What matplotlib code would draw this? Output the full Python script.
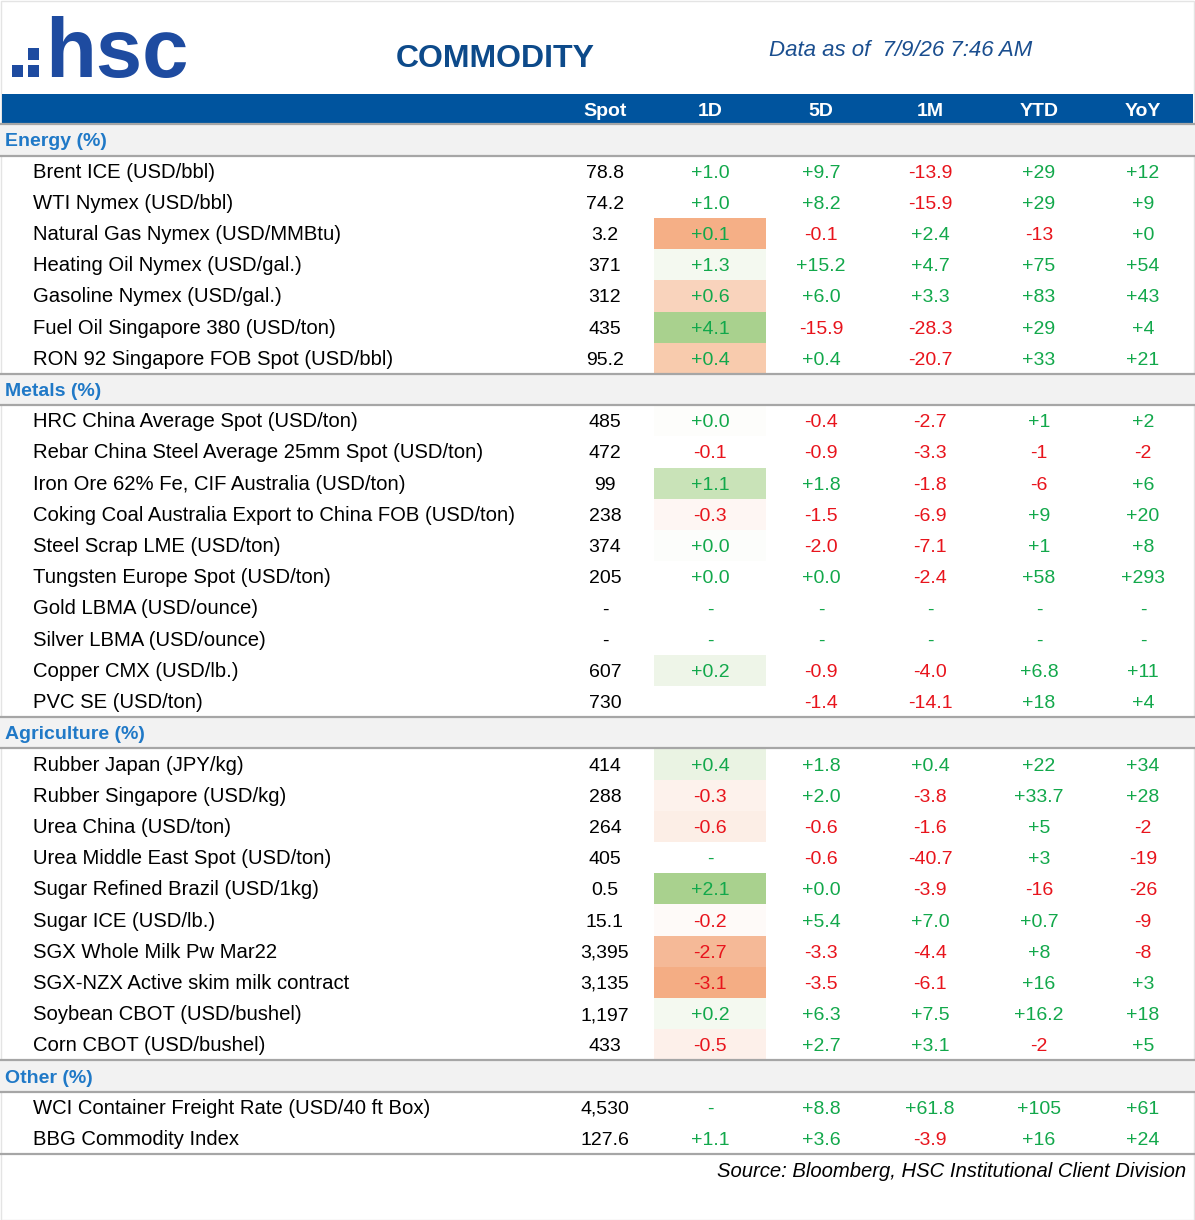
import matplotlib.pyplot as plt
from matplotlib.patches import Rectangle

plt.rcParams['font.family'] = ['Liberation Sans', 'DejaVu Sans']

# data
columns = ['Spot', '1D', '5D', '1M', 'YTD', 'YoY']
sections = ['Energy (%)', 'Metals (%)', 'Agriculture (%)', 'Other (%)']
section_sizes = [7, 10, 10, 2]

names = [
    'Brent ICE (USD/bbl)', 'WTI Nymex (USD/bbl)', 'Natural Gas Nymex (USD/MMBtu)',
    'Heating Oil Nymex (USD/gal.)', 'Gasoline Nymex (USD/gal.)',
    'Fuel Oil Singapore 380 (USD/ton)', 'RON 92 Singapore FOB Spot (USD/bbl)',
    'HRC China Average Spot (USD/ton)', 'Rebar China Steel Average 25mm Spot (USD/ton)',
    'Iron Ore 62% Fe, CIF Australia (USD/ton)',
    'Coking Coal Australia Export to China FOB (USD/ton)', 'Steel Scrap LME (USD/ton)',
    'Tungsten Europe Spot (USD/ton)', 'Gold LBMA (USD/ounce)', 'Silver LBMA (USD/ounce)',
    'Copper CMX (USD/lb.)', 'PVC SE (USD/ton)',
    'Rubber Japan (JPY/kg)', 'Rubber Singapore (USD/kg)', 'Urea China (USD/ton)',
    'Urea Middle East Spot (USD/ton)', 'Sugar Refined Brazil (USD/1kg)', 'Sugar ICE (USD/lb.)',
    'SGX Whole Milk Pw Mar22', 'SGX-NZX Active skim milk contract',
    'Soybean CBOT (USD/bushel)', 'Corn CBOT (USD/bushel)',
    'WCI Container Freight Rate (USD/40 ft Box)', 'BBG Commodity Index',
]
spot = ['78.8', '74.2', '3.2', '371', '312', '435', '95.2',
        '485', '472', '99', '238', '374', '205', '-', '-', '607', '730',
        '414', '288', '264', '405', '0.5', '15.1', '3,395', '3,135', '1,197', '433',
        '4,530', '127.6']
d1 = ['+1.0', '+1.0', '+0.1', '+1.3', '+0.6', '+4.1', '+0.4',
      '+0.0', '-0.1', '+1.1', '-0.3', '+0.0', '+0.0', '-', '-', '+0.2', '',
      '+0.4', '-0.3', '-0.6', '-', '+2.1', '-0.2', '-2.7', '-3.1', '+0.2', '-0.5',
      '-', '+1.1']
d5 = ['+9.7', '+8.2', '-0.1', '+15.2', '+6.0', '-15.9', '+0.4',
      '-0.4', '-0.9', '+1.8', '-1.5', '-2.0', '+0.0', '-', '-', '-0.9', '-1.4',
      '+1.8', '+2.0', '-0.6', '-0.6', '+0.0', '+5.4', '-3.3', '-3.5', '+6.3', '+2.7',
      '+8.8', '+3.6']
m1 = ['-13.9', '-15.9', '+2.4', '+4.7', '+3.3', '-28.3', '-20.7',
      '-2.7', '-3.3', '-1.8', '-6.9', '-7.1', '-2.4', '-', '-', '-4.0', '-14.1',
      '+0.4', '-3.8', '-1.6', '-40.7', '-3.9', '+7.0', '-4.4', '-6.1', '+7.5', '+3.1',
      '+61.8', '-3.9']
ytd = ['+29', '+29', '-13', '+75', '+83', '+29', '+33',
       '+1', '-1', '-6', '+9', '+1', '+58', '-', '-', '+6.8', '+18',
       '+22', '+33.7', '+5', '+3', '-16', '+0.7', '+8', '+16', '+16.2', '-2',
       '+105', '+16']
yoy = ['+12', '+9', '+0', '+54', '+43', '+4', '+21',
       '+2', '-2', '+6', '+20', '+8', '+293', '-', '-', '+11', '+4',
       '+34', '+28', '-2', '-19', '-26', '-9', '-8', '+3', '+18', '+5',
       '+61', '+24']

# 1D conditional fill as shown in the sheet
d1_fill = ['white', 'white', '#F5AF86', '#F4F9F0', '#F9D3BC', '#A9D18E', '#F8CBAD',
           '#FDFDFB', 'white', '#C9E3B8', '#FEF6F3', '#FCFDFB', 'white', 'white', 'white',
           '#EEF5E8', 'white',
           '#EAF3E3', '#FDF2EC', '#FCEEE6', 'white', '#A9D18E', '#FEFAF8', '#F5B997',
           '#F4AD84', '#F4F9F0', '#FDF0EA',
           'white', 'white']

GREEN = '#12A84B'
RED = '#E8141C'
BLUE_BAR = '#00549E'
SEC_BLUE = '#2079C7'
FS = 14
FS_NAME = 14.6

fig = plt.figure(figsize=(11.95, 12.2), dpi=100)
ax = fig.add_axes([0, 0, 1, 1])
ax.set_xlim(0, 1195)
ax.set_ylim(1220, 0)
ax.axis('off')

# frame
ax.add_patch(Rectangle((0.5, 0.5), 1194, 1219, fill=False, ec='#E4E4E4', lw=1))

# logo
ax.add_patch(Rectangle((12, 65), 11, 12, color='#1E4BA0', lw=0))
ax.add_patch(Rectangle((28, 65), 11, 12, color='#1E4BA0', lw=0))
ax.add_patch(Rectangle((28, 48), 11, 12, color='#1E4BA0', lw=0))
ax.text(45, 77, 'hsc', fontsize=60, fontweight='bold', color='#1E4BA0', va='baseline', ha='left')

ax.text(495, 67, 'COMMODITY', fontsize=23, fontweight='bold', color='#0D4A8A', ha='center', va='baseline')
ax.text(901, 56, 'Data as of  7/9/26 7:46 AM', fontsize=16, style='italic', color='#1A4E8F',
        ha='center', va='baseline')

# header bar
col_x = [605, 710, 821, 930, 1039, 1143]
ax.add_patch(Rectangle((2, 94), 1191, 31, color=BLUE_BAR, lw=0))
for cx, c in zip(col_x, columns):
    ax.text(cx, 109.5 + 6.5, c, fontsize=FS, fontweight='bold', color='white', ha='center', va='baseline')

step = 31.2
y = 140.0
i = 0
for sec, n in zip(sections, section_sizes):
    ax.add_patch(Rectangle((0, y - step / 2), 1195, step, color='#F2F2F2', lw=0))
    ax.plot([0, 1195], [y - step / 2, y - step / 2], color='#A6A6A6', lw=1.6)
    ax.plot([0, 1195], [y + step / 2, y + step / 2], color='#A6A6A6', lw=1.6)
    ax.text(5, y + 6.5, sec, fontsize=FS, fontweight='bold', color=SEC_BLUE, ha='left', va='baseline')
    y += step
    for k in range(n):
        if d1_fill[i] != 'white':
            ax.add_patch(Rectangle((654, y - step / 2), 112, step, color=d1_fill[i], lw=0))
        ax.text(33, y + 6.5, names[i], fontsize=FS_NAME, color='black', ha='left', va='baseline')
        ax.text(col_x[0], y + 6.5, spot[i], fontsize=FS, color='black', ha='center', va='baseline')
        for cx, v in zip(col_x[1:], [d1[i], d5[i], m1[i], ytd[i], yoy[i]]):
            col = RED if (v.startswith('-') and len(v) > 1) else GREEN
            ax.text(cx, y + 6.5, v, fontsize=FS, color=col, ha='center', va='baseline')
        y += step
        i += 1

ax.plot([0, 1195], [y - step / 2, y - step / 2], color='#A6A6A6', lw=1.6)
ax.text(1186, 1177, 'Source: Bloomberg, HSC Institutional Client Division', fontsize=FS_NAME,
        style='italic', color='black', ha='right', va='baseline')

fig.savefig('out.png', dpi=100)
